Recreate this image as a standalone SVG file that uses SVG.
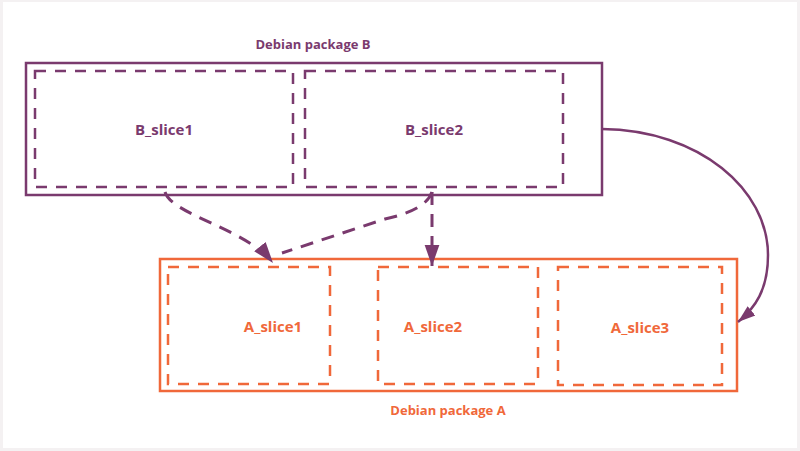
<svg xmlns="http://www.w3.org/2000/svg" width="800" height="451" viewBox="0 0 800 451">
<defs>
<style>
.p{stroke:#7a3a6e;fill:none}
.o{stroke:#f0683a;fill:none}
.outer{stroke-width:2.5}
.slice{stroke-width:2.5;stroke-dasharray:11 9}
.link{stroke:#7a3a6e;fill:none;stroke-width:3;stroke-dasharray:13 9}
.t{font-family:"Open Sans","Liberation Sans",sans-serif;font-weight:bold;text-anchor:middle}
.big{font-size:15px}
.small{font-size:13px}
.tp{fill:#7a3a6e}
.to{fill:#f0683a}
</style>
<marker id="ah" viewBox="0 0 10 10" refX="10" refY="5" markerWidth="7" markerHeight="7" orient="auto" markerUnits="strokeWidth">
<path d="M0,1.5 L10,5 L0,8.5 Z" fill="#7a3a6e"/>
</marker>
<marker id="ah2" viewBox="0 0 10 10" refX="10" refY="5" markerWidth="7" markerHeight="7" orient="auto" markerUnits="strokeWidth">
<path d="M0,1.5 L10,5 L0,8.5 Z" fill="#7a3a6e"/>
</marker>
</defs>
<rect x="0" y="0" width="800" height="451" fill="#f4f1f2"/>
<rect x="3" y="2" width="794" height="446" fill="#ffffff"/>

<g id="pkgB">
<rect class="p outer" x="26" y="63" width="576" height="132"/>
<text class="t small tp" x="313" y="49">Debian package B</text>
</g>
<g id="B_slice1">
<rect class="p slice" x="35" y="71" width="258" height="116"/>
<text class="t big tp" x="164" y="135">B_slice1</text>
</g>
<g id="B_slice2">
<rect class="p slice" x="305" y="71" width="258" height="116"/>
<text class="t big tp" x="434" y="135">B_slice2</text>
</g>

<g id="pkgA">
<rect class="o outer" x="160" y="259" width="577" height="132"/>
<text class="t small to" x="448" y="415">Debian package A</text>
</g>
<g id="A_slice1">
<rect class="o slice" x="168" y="267" width="162" height="117"/>
<text class="t big to" x="273" y="332">A_slice1</text>
</g>
<g id="A_slice2">
<rect class="o slice" x="378" y="267" width="160" height="117"/>
<text class="t big to" x="433" y="332">A_slice2</text>
</g>
<g id="A_slice3">
<rect class="o slice" x="558" y="267" width="164" height="118"/>
<text class="t big to" x="640" y="333">A_slice3</text>
</g>

<g id="connectors">
<path class="link" d="M165,192 C172,215 245,228 273,263" marker-end="url(#ah)"/>
<path class="link" d="M432,192 Q426,210 385,219 L282,253"/>
<path class="link" d="M432,192 L432,266" marker-end="url(#ah)"/>
<path class="p" stroke-width="2.5" d="M602,129 C700,130 768,190 768,255 C768,290 755,308 738,322" marker-end="url(#ah2)"/>
</g>
</svg>
